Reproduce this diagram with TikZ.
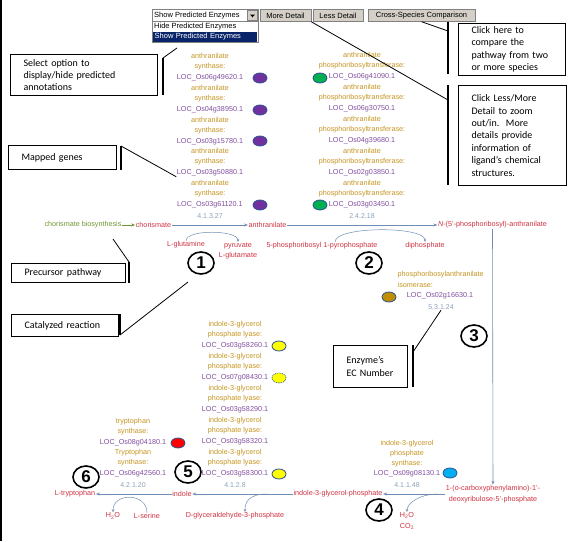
\documentclass[tikz,border=0pt]{standalone}
\usepackage{fontspec}
\setmainfont{Liberation Sans}
\newfontfamily\notefont{Carlito}
\usetikzlibrary{shapes.geometric,arrows.meta}

\definecolor{genegold}{RGB}{196,148,32}
\definecolor{genepurp}{RGB}{128,78,160}
\definecolor{cpdred}{RGB}{205,50,65}
\definecolor{ecgray}{RGB}{140,160,185}
\definecolor{pathblue}{RGB}{110,140,180}
\definecolor{prekgreen}{RGB}{110,150,50}
\definecolor{dotpurple}{RGB}{112,48,160}
\definecolor{dotgreen}{RGB}{0,176,80}
\definecolor{dotgold}{RGB}{191,143,0}
\definecolor{dotred}{RGB}{255,0,0}
\definecolor{dotcyan}{RGB}{0,176,240}
\definecolor{dotyellow}{RGB}{255,255,0}
\definecolor{dotrim}{RGB}{47,82,143}
\definecolor{btngray}{RGB}{212,208,200}
\definecolor{selnavy}{RGB}{10,36,106}

\newcommand{\purp}{\color{genepurp}}

\tikzset{
  gene/.style={align=center, inner sep=0.5pt, font=\fontsize{7.2}{10.7}\selectfont, text=genegold},
  ecnum/.style={inner sep=0.5pt, font=\fontsize{7}{8}\selectfont, text=ecgray},
  cpd/.style={inner sep=0.5pt, font=\fontsize{7.2}{10.5}\selectfont, text=cpdred, align=center},
  enz/.style={ellipse, draw=dotrim, line width=0.8pt, minimum width=14pt, minimum height=10pt, inner sep=0pt},
  rxn/.style={draw=pathblue, line width=0.6pt, -{Stealth[length=4pt,width=3pt]}},
  side/.style={draw=pathblue, line width=0.5pt, -{Stealth[length=3pt,width=2.5pt]}},
  stepnum/.style={ellipse, draw, line width=1.6pt, minimum width=26pt, minimum height=22pt, inner sep=0pt, font=\fontsize{17}{17}\selectfont\bfseries},
  note/.style={draw, line width=1pt, anchor=north west, align=left, inner xsep=13pt, inner ysep=0pt, font=\notefont\fontsize{10}{12.4}\selectfont},
  bracket/.style={line width=1.2pt},
  pointer/.style={line width=0.8pt},
  button/.style={draw=gray, fill=btngray, minimum height=12pt, inner sep=0pt, font=\fontsize{7.5}{8}\selectfont}
}

\begin{document}
\begin{tikzpicture}[x=1pt,y=-1pt]
\useasboundingbox (0,0) rectangle (581,541);
\draw[line width=1.6pt] (1,0) -- (1,541);

% controls on top
\node[button, fill=white, minimum width=106pt] (dropbox) at (205,15.5) {};
\node[anchor=west, inner sep=0pt, font=\fontsize{7.5}{8}\selectfont] (droptext) at (154,15.5) {Show Predicted Enzymes};
\node[button, minimum width=10pt, minimum height=10pt] (dropbtn) at (252.5,15.5) {};
\fill ([shift={(-2.5,-1)}]dropbtn.center) -- ([shift={(2.5,-1)}]dropbtn.center) -- ([shift={(0,1.8)}]dropbtn.center) -- cycle;
\node[draw=gray, fill=white, minimum width=106pt, minimum height=21pt, anchor=north west, inner sep=0pt] (droplist) at (152,21) {};
\node[anchor=west, inner sep=0pt, font=\fontsize{7.5}{8}\selectfont] (opthide) at (154,26.5) {Hide Predicted Enzymes};
\node[anchor=west, fill=selnavy, text=white, text width=100pt, align=left, inner xsep=2pt, inner ysep=0pt, minimum height=10pt, font=\fontsize{7.5}{8}\selectfont] (optshow) at (152.5,37) {Show Predicted Enzymes};
\node[button, minimum width=51pt] (btnmore) at (285.5,15.5) {More Detail};
\node[button, minimum width=50pt] (btnless) at (338,15.5) {Less Detail};
\node[button, minimum width=107pt] (btncross) at (421.5,15.5) {Cross-Species Comparison};

% anthranilate synthase
\node[gene] (as1) at (210,67) {anthranilate\\synthase:\\\purp LOC\_Os06g49620.1};
\node[gene] (as2) at (210,99) {anthranilate\\synthase:\\\purp LOC\_Os04g38950.1};
\node[gene] (as3) at (210,131) {anthranilate\\synthase:\\\purp LOC\_Os03g15780.1};
\node[gene] (as4) at (210,162) {anthranilate\\synthase:\\\purp LOC\_Os03g50880.1};
\node[gene] (as5) at (210,194) {anthranilate\\synthase:\\\purp LOC\_Os03g61120.1};
\node[ecnum] (ec1) at (210,216) {4.1.3.27};
\node[enz, fill=dotpurple] (e1) at (260,78) {};
\node[enz, fill=dotpurple] (e2) at (260,110) {};
\node[enz, fill=dotpurple] (e3) at (260,141) {};
\node[enz, fill=dotpurple] (e5) at (260,205) {};

% anthranilate phosphoribosyltransferase
\node[gene] (pt1) at (362,66) {anthranilate\\phosphoribosyltransferase:\\\purp LOC\_Os06g41090.1};
\node[gene] (pt2) at (362,98) {anthranilate\\phosphoribosyltransferase:\\\purp LOC\_Os06g30750.1};
\node[gene] (pt3) at (362,130) {anthranilate\\phosphoribosyltransferase:\\\purp LOC\_Os04g39680.1};
\node[gene] (pt4) at (362,162) {anthranilate\\phosphoribosyltransferase:\\\purp LOC\_Os02g03850.1};
\node[gene] (pt5) at (362,194) {anthranilate\\phosphoribosyltransferase:\\\purp LOC\_Os03g03450.1};
\node[ecnum] (ec2) at (362,216) {2.4.2.18};
\node[enz, fill=dotgreen] (f1) at (320,78) {};
\node[enz, fill=dotgreen] (f5) at (320,205) {};

% main pathway
\node[cpd, text=prekgreen] (cbio) at (83,225) {chorismate biosynthesis};
\node[cpd] (chor) at (153.5,225) {chorismate};
\node[cpd] (anth) at (267.5,225) {anthranilate};
\node[cpd] (npra) at (492.5,225) {\textit{N}-(5'-phosphoribosyl)-anthranilate};
\draw[rxn, draw=prekgreen] (cbio) -- (chor);
\draw[rxn] (chor) -- (anth);
\draw[rxn] (anth) -- (npra);

\node[cpd] (gln) at (186,245) {L-glutamine};
\node[cpd] (pyr) at (238,251) {pyruvate\\L-glutamate};
\draw[side] (gln.north) .. controls +(0,-12) and +(0,-12) .. (pyr.north);
\node[cpd] (prpp) at (322,246) {5-phosphoribosyl 1-pyrophosphate};
\node[cpd] (ppi) at (425,246) {diphosphate};
\draw[side] ([xshift=13pt]prpp.north) .. controls +(0,-16) and +(0,-16) .. (ppi.north);

% isomerase
\node[gene, align=left, anchor=west] (pai) at (397,279.5) {phosphoribosylanthranilate\\isomerase:};
\node[gene, text=genepurp] (pailoc) at (440,296) {LOC\_Os02g16630.1};
\node[ecnum] (ec3) at (441,307) {5.3.1.24};
\node[enz, fill=dotgold] (g1) at (389,297) {};

\node[cpd] (cdrp) at (493,494) {1-(o-carboxyphenylamino)-1'-\\deoxyribulose-5'-phosphate};
\draw[rxn] (npra) -- (cdrp);

% indole-3-glycerol phosphate synthase
\node[gene, font=\fontsize{7.2}{10}\selectfont] (igs) at (407,459) {indole-3-glycerol\\phosphate\\synthase:\\\purp LOC\_Os09g08130.1};
\node[ecnum] (ec4) at (407,485) {4.1.1.48};
\node[enz, fill=dotcyan] (c1) at (450,473) {};

\node[cpd] (igp) at (338,494) {indole-3-glycerol-phosphate};
\draw[rxn] (cdrp) -- (igp);
\node[cpd] (h2o4) at (407,521) {H\textsubscript{2}O\\CO\textsubscript{2}};
\draw[side] ([xshift=-7pt]cdrp.west) .. controls +(-20,0) and +(0,-8) .. (h2o4.north);

% indole-3-glycerol phosphate lyase
\node[gene] (il1) at (235,335) {indole-3-glycerol\\phosphate lyase:\\\purp LOC\_Os03g58260.1};
\node[gene] (il2) at (235,367) {indole-3-glycerol\\phosphate lyase:\\\purp LOC\_Os07g08430.1};
\node[gene] (il3) at (235,399) {indole-3-glycerol\\phosphate lyase:\\\purp LOC\_Os03g58290.1};
\node[gene] (il4) at (235,431) {indole-3-glycerol\\phosphate lyase:\\\purp LOC\_Os03g58320.1};
\node[gene] (il5) at (235,463) {indole-3-glycerol\\phosphate lyase:\\\purp LOC\_Os03g58300.1};
\node[ecnum] (ec5) at (235,485) {4.1.2.8};
\node[enz, fill=dotyellow] (y1) at (279,346) {};
\node[enz, fill=dotyellow, densely dotted] (y2) at (279,378) {};
\node[enz, fill=dotyellow] (y5) at (279,474) {};

\node[cpd] (indole) at (182,494) {indole};
\draw[rxn] (igp) -- (indole);
\node[cpd] (gap) at (235,516) {D-glyceraldehyde-3-phosphate};
\draw[side] ([xshift=-26pt]igp.west) .. controls +(-20,0) and +(0,-8) .. ([xshift=10pt]gap.north);

% tryptophan synthase
\node[gene] (ts1) at (133,432) {tryptophan\\synthase:\\\purp LOC\_Os08g04180.1};
\node[gene] (ts2) at (133,463) {Tryptophan\\synthase:\\\purp LOC\_Os06g42560.1};
\node[ecnum] (ec6) at (133,485) {4.2.1.20};
\node[enz, fill=dotred] (r1) at (178,443) {};

\node[cpd] (trp) at (75,494) {L-tryptophan};
\draw[rxn] (indole) -- (trp);
\node[cpd] (h2o6) at (113,516) {H\textsubscript{2}O};
\node[cpd] (ser) at (147,516) {L-serine};
\draw[side] (ser.north) .. controls +(0,-20) and +(0,-20) .. (h2o6.north);

% step numbers
\node[stepnum] (s1) at (201,263) {1};
\node[stepnum] (s2) at (369,263) {2};
\node[stepnum] (s3) at (474,336) {3};
\node[stepnum] (s4) at (379,510) {4};
\node[stepnum] (s5) at (188,472) {5};
\node[stepnum] (s6) at (86,477) {6};

% notes
\node[note, text width=121pt, minimum height=41pt] (nsel) at (10,54) {Select option to\\display/hide predicted\\annotations};
\coordinate (selT) at (163,58); \coordinate (selB) at (163,95); \coordinate (selTip) at (177,48);
\draw[bracket] (selT) -- (selB);
\draw[pointer] (selT) -- (selTip);

\node[note, text width=82pt, minimum height=24pt] (nmap) at (8,145) {Mapped genes};
\coordinate (mapT) at (121,146); \coordinate (mapB) at (121,170);
\draw[bracket] (mapT) -- (mapB);
\draw[pointer] (mapT) -- (as4.south west);

\node[note, text width=88pt, minimum height=19pt] (npre) at (11,263) {Precursor pathway};
\coordinate (preT) at (129,262); \coordinate (preB) at (129,283); \coordinate (preTip) at (113,239);
\draw[bracket] (preT) -- (preB);
\draw[pointer] (preT) -- (preTip);

\node[note, text width=81pt, minimum height=22pt] (ncat) at (11,314) {Catalyzed reaction};
\coordinate (catT) at (120,314); \coordinate (catB) at (120,335); \coordinate (catTip) at (188,282);
\draw[bracket] (catT) -- (catB);
\draw[pointer] (catB) -- (catTip);

\node[note, text width=48pt, minimum height=42pt] (nec) at (333,345) {Enzyme’s\\EC Number};
\coordinate (ecT) at (413,345); \coordinate (ecB) at (413,387); \coordinate (ecP) at (413,352);
\draw[bracket] (ecT) -- (ecB);
\draw[pointer] (ecP) -- (ec3.south);

\node[note, text width=81pt, minimum height=52pt] (ncmp) at (458,23) {Click here to\\compare the\\pathway from two\\or more species};
\coordinate (cmpT) at (448,22); \coordinate (cmpB) at (448,74); \coordinate (cmpP) at (448,31);
\draw[bracket] (cmpT) -- (cmpB);
\draw[pointer] (cmpP) -- (btncross.south);

\node[note, text width=82pt, minimum height=100pt] (nzoom) at (458,85) {Click Less/More\\Detail to zoom\\out/in.~~More\\details provide\\information of\\ligand’s chemical\\structures.};
\coordinate (zmT) at (448,85); \coordinate (zmB) at (448,185); \coordinate (zmP) at (448,100);
\draw[bracket] (zmT) -- (zmB);
\draw[pointer] (zmP) -- (btnmore.south east);
\end{tikzpicture}
\end{document}
